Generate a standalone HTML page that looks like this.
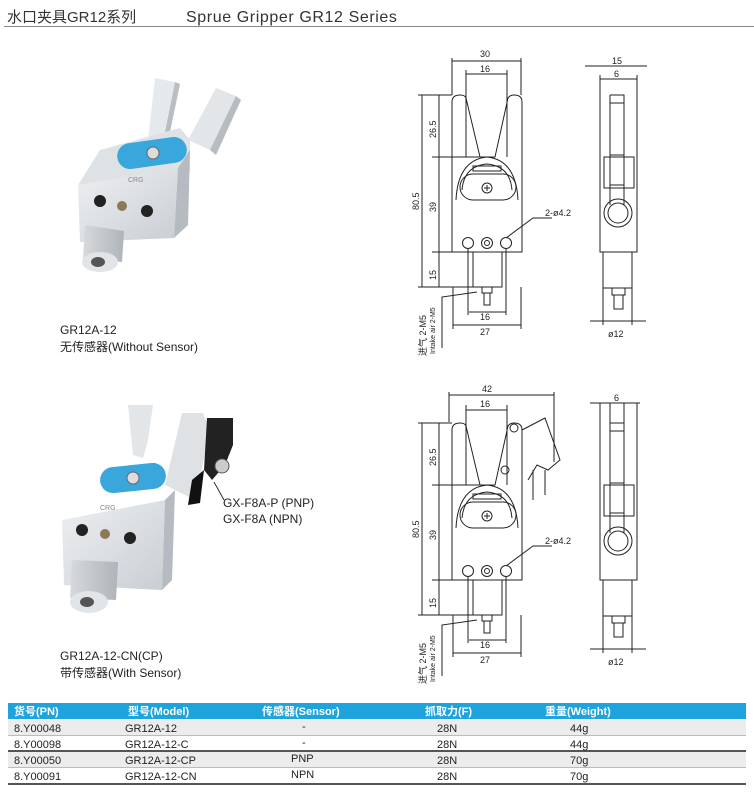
<!DOCTYPE html>
<html><head><meta charset="utf-8"><style>
html,body{margin:0;padding:0;background:#fff;}
svg{display:block;font-family:"Liberation Sans","Noto Sans CJK SC",sans-serif;}
</style></head><body>
<svg width="754" height="796" viewBox="0 0 754 796" xmlns="http://www.w3.org/2000/svg">
<defs>
<linearGradient id="al" x1="0" y1="0" x2="1" y2="1"><stop offset="0" stop-color="#eef0f2"/><stop offset="1" stop-color="#c9ced3"/></linearGradient>
<linearGradient id="al2" x1="0" y1="0" x2="1" y2="0"><stop offset="0" stop-color="#d6dadd"/><stop offset="1" stop-color="#aeb4b9"/></linearGradient>
<g id="body" fill="none" stroke="#222" stroke-width="1">
  <path d="M452 252 V102 Q452 95 460 95 Q465 95 466 98 L480 157 H495 L508 98 Q510 95 514 95 Q522 95 522 102 V252 Z"/>
  <path d="M456 200 Q458 160 487 157 Q516 160 518 200"/>
  <path d="M462 190 Q464 166 487 164 Q510 166 512 190"/>
  <rect x="473" y="166" width="28" height="5"/>
  <rect x="460" y="174" width="56" height="26" rx="13"/>
  <circle cx="487" cy="188" r="5"/><path d="M484 188h6M487 185v6"/>
  <circle cx="468" cy="243" r="5.5"/><circle cx="487" cy="243" r="5.5"/><circle cx="487" cy="243" r="2.5"/><circle cx="506" cy="243" r="5.5"/>
  <rect x="473" y="252" width="29" height="35"/>
  <path d="M482 287v6h10v-6M484 293v12h6v-12"/>
  <path d="M418 95h34M432 157h50M432 252h20M418 287h55"/>
  <path d="M422 95v192M439 95v192"/>
  <path d="M468 249v66M506 249v66M453 287v42M521 287v42M469 312h37M453 325h68"/>
  <path d="M506 238 L533 218 H552"/>
  <path d="M442 348 V297 L477 292"/>
</g>
<g id="side" fill="none" stroke="#222" stroke-width="1">
  <path d="M600 75V252h37V75"/>
  <path d="M610 95h14v110M610 95v110M610 103h14"/>
  <path d="M604 157h30v31h-30z"/>
  <rect x="610" y="155" width="14" height="30"/>
  <circle cx="618" cy="213" r="14"/><circle cx="618" cy="213" r="10"/>
  <path d="M603 252v36h29v-36M612 288v7h13v-7M614 295v14h9v-14"/>
  <path d="M603 288v37M632 288v37M590 321h56"/>
</g>
</defs>

<!-- header -->
<text x="7" y="22" font-size="15" fill="#333">水口夹具GR12系列</text>
<text x="186" y="22" font-size="16" fill="#333" letter-spacing="0.6">Sprue Gripper GR12 Series</text>
<line x1="4" y1="26.5" x2="754" y2="26.5" stroke="#888" stroke-width="1"/>

<!-- photo 1 -->
<g>
 <polygon points="155,78 175,82 165,132 148,140" fill="#e6e9ec"/>
 <polygon points="175,82 180,84 170,132 165,132" fill="#b9bec3"/>
 <polygon points="216,88 236,96 210,150 188,140" fill="#e3e6e9"/>
 <polygon points="236,96 241,100 216,155 210,150" fill="#b7bcc1"/>
 <polygon points="100,150 180,128 190,140 190,172 78,185" fill="#dfe2e5"/>
 <polygon points="78,185 178,168 174,238 80,242" fill="url(#al)"/>
 <polygon points="178,168 190,150 188,225 174,238" fill="#b5bbc0"/>
 <rect x="117" y="140" width="70" height="26" rx="13" fill="#3aa7dc" transform="rotate(-8 152 153)"/>
 <circle cx="153" cy="153" r="6" fill="#ddd" stroke="#666"/>
 <text x="128" y="182" font-size="7" fill="#888">CRG</text>
 <circle cx="100" cy="201" r="6" fill="#222"/><circle cx="122" cy="206" r="5" fill="#8a7a5a"/><circle cx="147" cy="211" r="6" fill="#222"/>
 <polygon points="85,225 124,231 122,262 83,258" fill="url(#al2)"/>
 <ellipse cx="100" cy="262" rx="18" ry="10" fill="#e2e5e8"/>
 <ellipse cx="98" cy="262" rx="7" ry="5" fill="#555"/>
</g>
<text x="60" y="334" font-size="12" fill="#222">GR12A-12</text>
<text x="60" y="351" font-size="12" fill="#222">无传感器(Without Sensor)</text>

<!-- photo 2 -->
<g>
 <polygon points="128,405 153,405 148,440 143,458 133,455" fill="#e3e6e9"/>
 <polygon points="182,413 203,413 210,430 195,500 165,485" fill="#dfe2e5"/>
 <polygon points="207,418 233,418 233,445 225,465 212,480 204,470" fill="#222"/>
 <polygon points="192,480 204,470 200,503 188,505" fill="#111"/>
 <circle cx="222" cy="466" r="7" fill="#ccc" stroke="#555"/>
 <polygon points="62,520 165,500 162,590 64,585" fill="url(#al)"/>
 <polygon points="165,500 175,490 172,580 162,590" fill="#b5bbc0"/>
 <rect x="100" y="465" width="66" height="26" rx="13" fill="#3aa7dc" transform="rotate(-6 133 478)"/>
 <circle cx="133" cy="478" r="6" fill="#ddd" stroke="#666"/>
 <text x="100" y="510" font-size="7" fill="#888">CRG</text>
 <circle cx="82" cy="530" r="6" fill="#222"/><circle cx="105" cy="534" r="5" fill="#8a7a5a"/><circle cx="130" cy="538" r="6" fill="#222"/>
 <polygon points="72,560 118,562 116,600 70,598" fill="url(#al2)"/>
 <ellipse cx="89" cy="602" rx="19" ry="11" fill="#e2e5e8"/>
 <ellipse cx="87" cy="602" rx="7" ry="5" fill="#555"/>
 <line x1="214" y1="482" x2="224" y2="500" stroke="#333"/>
</g>
<text x="223" y="507" font-size="12" fill="#222">GX-F8A-P (PNP)</text>
<text x="223" y="523" font-size="12" fill="#222">GX-F8A (NPN)</text>
<text x="60" y="660" font-size="12" fill="#222">GR12A-12-CN(CP)</text>
<text x="60" y="677" font-size="12" fill="#222">带传感器(With Sensor)</text>

<!-- drawing 1 -->
<use href="#body"/><use href="#side"/>
<g fill="none" stroke="#222"><path d="M452 58v37M521 58v37M452 61h69M466 70v87M507 70v87M466 74h41"/><path d="M585 66h62M600 79h37"/></g>

<!-- drawing 2 -->
<g transform="translate(0,328)"><use href="#body"/><use href="#side"/></g>
<g fill="none" stroke="#222">
 <path d="M449 392v30M554 392v70M449 395h105M466 405v80M507 405v80M466 410h41"/>
 <path d="M522 430 L545 418 L560 460 L548 470 L537 465 L528 480 M533 470 v30 M545 470 v25"/>
 <circle cx="514" cy="428" r="4"/><circle cx="505" cy="470" r="4"/>
 <path d="M590 403h50M610 403v20M624 403v20"/>
</g>

<g font-size="9" fill="#222">
 <text x="480" y="57">30</text><text x="480" y="72">16</text>
 <text x="612" y="64">15</text><text x="614" y="77">6</text>
 <text x="480" y="320">16</text><text x="480" y="335">27</text>
 <text x="608" y="337">ø12</text>
 <text x="545" y="216">2-ø4.2</text>
 <text x="482" y="392">42</text><text x="480" y="407">16</text>
 <text x="614" y="401">6</text>
 <text x="480" y="648">16</text><text x="480" y="663">27</text>
 <text x="608" y="665">ø12</text>
 <text x="545" y="544">2-ø4.2</text>
 <g transform="rotate(-90)">
  <text x="-210" y="419">80.5</text><text x="-138" y="436">26.5</text><text x="-212" y="436">39</text><text x="-280" y="436">15</text>
  <text x="-538" y="419">80.5</text><text x="-466" y="436">26.5</text><text x="-540" y="436">39</text><text x="-608" y="436">15</text>
  <text x="-356" y="426">进气 2-M5</text><text x="-354" y="435" font-size="7">Intake air 2-M5</text>
  <text x="-684" y="426">进气 2-M5</text><text x="-682" y="435" font-size="7">Intake air 2-M5</text>
 </g>
</g>

<!-- table -->
<rect x="8" y="703" width="738" height="16" fill="#1ea3dc"/>
<g font-size="11" fill="#fff" font-weight="bold">
 <text x="14" y="715">货号(PN)</text><text x="128" y="715">型号(Model)</text><text x="262" y="715">传感器(Sensor)</text><text x="425" y="715">抓取力(F)</text><text x="545" y="715">重量(Weight)</text>
</g>
<rect x="8" y="720" width="738" height="15" fill="#ececec"/>
<rect x="8" y="752" width="738" height="15" fill="#ececec"/>
<g stroke="#555"><line x1="8" y1="735.5" x2="746" y2="735.5" stroke="#bbb"/><line x1="8" y1="751" x2="746" y2="751" stroke-width="2"/><line x1="8" y1="767.5" x2="746" y2="767.5" stroke="#bbb"/><line x1="8" y1="784" x2="746" y2="784" stroke-width="2"/></g>
<g font-size="11" fill="#222">
 <text x="14" y="732">8.Y00048</text><text x="125" y="732">GR12A-12</text><text x="302" y="730">-</text><text x="437" y="732">28N</text><text x="570" y="732">44g</text>
 <text x="14" y="748">8.Y00098</text><text x="125" y="748">GR12A-12-C</text><text x="302" y="746">-</text><text x="437" y="748">28N</text><text x="570" y="748">44g</text>
 <text x="14" y="764">8.Y00050</text><text x="125" y="764">GR12A-12-CP</text><text x="291" y="762">PNP</text><text x="437" y="764">28N</text><text x="570" y="764">70g</text>
 <text x="14" y="780">8.Y00091</text><text x="125" y="780">GR12A-12-CN</text><text x="291" y="778">NPN</text><text x="437" y="780">28N</text><text x="570" y="780">70g</text>
</g>
</svg>
</body></html>
